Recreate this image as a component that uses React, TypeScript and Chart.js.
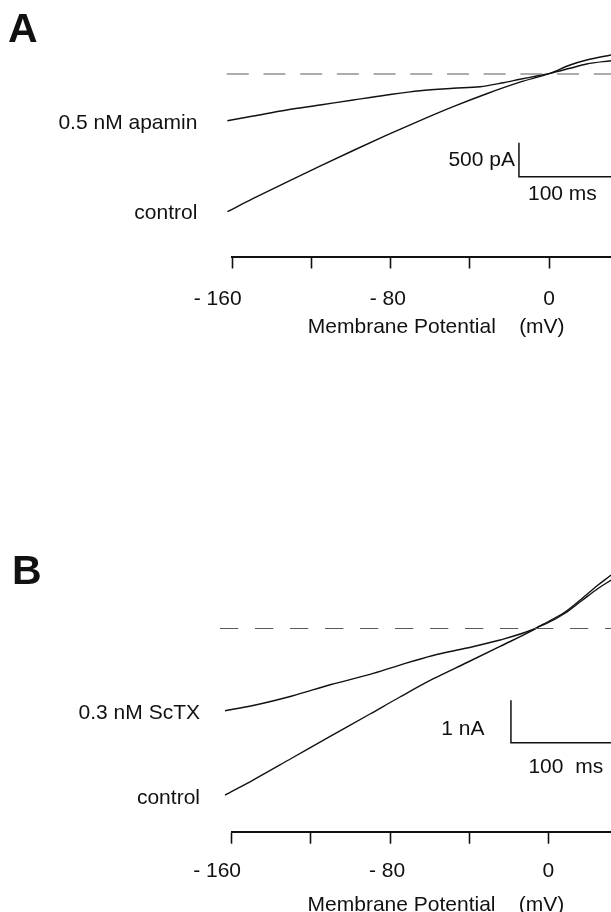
import React, { useEffect, useRef } from "react";
import { Chart, registerables } from "chart.js";

Chart.register(...registerables);

const FONT = "'Liberation Sans', Arial, Helvetica, sans-serif";
const INK = "#111111";
const DASH_COLOR = "#5a5a5a";

// Shared x axis (membrane potential, mV)
const TICK_VALUES = [-160, -120, -80, -40, 0];
const TICK_LABELS = ["- 160     ", "", "- 80 ", "", "0"];
const X_TITLE = "     Membrane Potential    (mV)";

// Panel A: apamin (currents in nA)
const A_APAMIN_MV = [-162.5, -149.4, -132.5, -115.7, -98.9, -82.0, -65.2, -48.4, -34.9, -23.1, -14.7, -6.2, 0.5, 10.6, 19.0, 31.3, 40];
const A_APAMIN_NA = [-0.687, -0.618, -0.529, -0.456, -0.382, -0.309, -0.246, -0.21, -0.187, -0.128, -0.078, -0.029, 0.01, 0.084, 0.147, 0.196, 0.23];
const A_CONTROL_MV = [-162.5, -149.4, -132.5, -115.7, -98.9, -82.0, -65.2, -48.4, -31.5, -14.7, 0.5, 10.6, 19.0, 31.3, 40];
const A_CONTROL_NA = [-2.025, -1.83, -1.59, -1.355, -1.125, -0.9, -0.685, -0.48, -0.29, -0.12, 0.01, 0.132, 0.206, 0.279, 0.33];
const A_ZERO_MV = [-162.8, 50];
const A_ZERO_NA = [0, 0];

// Panel B: ScTX (currents in nA)
const B_SCTX_MV = [-163.4, -149.2, -129.5, -109.8, -90.1, -75.0, -58.3, -41.1, -24.4, -7.8, -4.6, -0.1, 8.4, 17.0, 25.1, 31.7, 40];
const B_SCTX_NA = [-1.934, -1.812, -1.588, -1.318, -1.08, -0.86, -0.635, -0.459, -0.271, -0.024, 0.05, 0.136, 0.358, 0.659, 0.941, 1.141, 1.42];
const B_CONTROL_MV = [-163.4, -149.2, -129.5, -109.8, -90.1, -75.0, -58.3, -41.1, -24.4, -7.8, -4.6, 8.4, 17.0, 25.1, 31.7, 40];
const B_CONTROL_NA = [-3.918, -3.565, -3.047, -2.529, -2.012, -1.612, -1.188, -0.8, -0.42, -0.04, 0.05, 0.388, 0.706, 1.024, 1.259, 1.6];
const B_ZERO_MV = [-165.9, 50];
const B_ZERO_NA = [0, 0];

const zip = (xs: number[], ys: number[]) => xs.map((x, i) => ({ x, y: ys[i] }));

const decorPlugin = {
  id: "decor",
  afterDatasetsDraw(chart: any, _args: any, o: any) {
    const { ctx } = chart;
    const x = chart.scales.x;
    const y = chart.scales.y;
    ctx.save();
    ctx.fillStyle = INK;
    ctx.strokeStyle = INK;
    // series labels at the start of each trace
    ctx.font = `21px ${FONT}`;
    ctx.textAlign = "right";
    ctx.textBaseline = "middle";
    chart.data.datasets.forEach((ds: any) => {
      if (!ds.seriesLabel) return;
      const p = ds.data[0];
      ctx.fillText(ds.label, x.getPixelForValue(p.x) + o.labelDx, y.getPixelForValue(p.y) + o.labelDy);
    });
    // panel letter
    ctx.font = `bold 41px ${FONT}`;
    ctx.textAlign = "left";
    ctx.textBaseline = "alphabetic";
    ctx.fillText(o.letter, o.letterX, o.letterY);
    // scale bar
    const b = o.bar;
    const bx = x.getPixelForValue(b.x);
    const yb = y.getPixelForValue(b.y);
    const yt = y.getPixelForValue(b.y + b.h);
    ctx.lineWidth = 1.5;
    ctx.beginPath();
    ctx.moveTo(bx, yt);
    ctx.lineTo(bx, yb);
    ctx.lineTo(chart.width + 5, yb);
    ctx.stroke();
    ctx.font = `21px ${FONT}`;
    ctx.textAlign = "right";
    ctx.textBaseline = "middle";
    ctx.fillText(b.vLabel, bx + b.vDx, (yb + yt) / 2 + b.vDy);
    ctx.textAlign = "left";
    ctx.fillText(b.hLabel, bx + b.hDx, yb + b.hDy);
    ctx.restore();
  },
};

type PanelCfg = {
  top: number;
  height: number;
  padLeft: number;
  padBottom: number;
  xMax: number;
  yMin: number;
  yMax: number;
  tickPadding: number;
  titlePadTop: number;
  dash: number[];
  series: { label: string; mv: number[]; na: number[] }[];
  zeroMv: number[];
  zeroNa: number[];
  decor: any;
};

const PANELS: PanelCfg[] = [
  {
    top: 0,
    height: 456,
    padLeft: 232.3,
    padBottom: 115.9,
    xMax: 31.3,
    yMin: -2.6838,
    yMax: 1.0882,
    tickPadding: 18,
    titlePadTop: -14.8,
    dash: [22, 14.7],
    series: [
      { label: "0.5 nM apamin", mv: A_APAMIN_MV, na: A_APAMIN_NA },
      { label: "control", mv: A_CONTROL_MV, na: A_CONTROL_NA },
    ],
    zeroMv: A_ZERO_MV,
    zeroNa: A_ZERO_NA,
    decor: {
      letter: "A",
      letterX: 8,
      letterY: 41.7,
      labelDx: -30,
      labelDy: 2,
      bar: { x: -15.2, y: -1.51, h: 0.5, vLabel: "500 pA", hLabel: "100 ms", vDx: -4, vDy: 1, hDx: 9, hDy: 17.3 },
    },
  },
  {
    top: 456,
    height: 480,
    padLeft: 231.7,
    padBottom: 18.4,
    xMax: 31.66,
    yMin: -4.7812,
    yMax: 4.0588,
    tickPadding: 15.4,
    titlePadTop: -7.3,
    dash: [18.3, 16.7],
    series: [
      { label: "0.3 nM ScTX", mv: B_SCTX_MV, na: B_SCTX_NA },
      { label: "control", mv: B_CONTROL_MV, na: B_CONTROL_NA },
    ],
    zeroMv: B_ZERO_MV,
    zeroNa: B_ZERO_NA,
    decor: {
      letter: "B",
      letterX: 12,
      letterY: 128.3,
      labelDx: -25,
      labelDy: 2.8,
      bar: { x: -18.9, y: -2.687, h: 1.0, vLabel: "1 nA", hLabel: "100  ms", vDx: -26.5, vDy: 8, hDx: 17.5, hDy: 24.8 },
    },
  },
];

function Panel({ cfg }: { cfg: PanelCfg }) {
  const ref = useRef<HTMLCanvasElement>(null);
  useEffect(() => {
    const datasets: any[] = [
      {
        label: "zero current",
        data: zip(cfg.zeroMv, cfg.zeroNa),
        borderColor: DASH_COLOR,
        borderWidth: 1.2,
        borderDash: cfg.dash,
        pointRadius: 0,
        clip: false,
      },
      ...cfg.series.map((s) => ({
        label: s.label,
        seriesLabel: true,
        data: zip(s.mv, s.na),
        borderColor: INK,
        borderWidth: 1.4,
        pointRadius: 0,
        cubicInterpolationMode: "monotone",
        clip: false,
      })),
    ];
    const chart = new Chart(ref.current!, {
      type: "line",
      data: { datasets },
      options: {
        animation: false,
        responsive: false,
        devicePixelRatio: 1,
        layout: { padding: { left: cfg.padLeft, right: 0, top: 0, bottom: cfg.padBottom } },
        plugins: {
          legend: { display: false },
          tooltip: { enabled: false },
          decor: cfg.decor,
        } as any,
        scales: {
          x: {
            type: "linear",
            min: -160,
            max: cfg.xMax,
            afterBuildTicks: (s: any) => {
              s.ticks = TICK_VALUES.map((v) => ({ value: v }));
            },
            border: { display: true, color: INK, width: 2 },
            grid: {
              display: true,
              drawOnChartArea: false,
              drawTicks: true,
              tickLength: 12,
              tickWidth: 1.6,
              tickColor: INK,
              color: INK,
            },
            ticks: {
              autoSkip: false,
              maxRotation: 0,
              padding: cfg.tickPadding,
              color: INK,
              font: { family: FONT, size: 21 },
              callback: (_v: any, i: number) => TICK_LABELS[i],
            },
            title: {
              display: true,
              text: X_TITLE,
              color: INK,
              font: { family: FONT, size: 21 },
              padding: { top: cfg.titlePadTop, bottom: 0 },
            },
          },
          y: { type: "linear", display: false, min: cfg.yMin, max: cfg.yMax },
        },
      },
      plugins: [decorPlugin],
    } as any);
    return () => chart.destroy();
  }, [cfg]);
  return (
    <canvas
      ref={ref}
      width={611}
      height={cfg.height}
      style={{ position: "absolute", left: 0, top: cfg.top, width: 611, height: cfg.height, display: "block" }}
    />
  );
}

export default function App() {
  return (
    <div
      style={{
        position: "fixed",
        left: 0,
        top: 0,
        width: 611,
        height: 912,
        overflow: "hidden",
        background: "#ffffff",
      }}
    >
      {PANELS.map((p, i) => (
        <Panel key={i} cfg={p} />
      ))}
    </div>
  );
}
